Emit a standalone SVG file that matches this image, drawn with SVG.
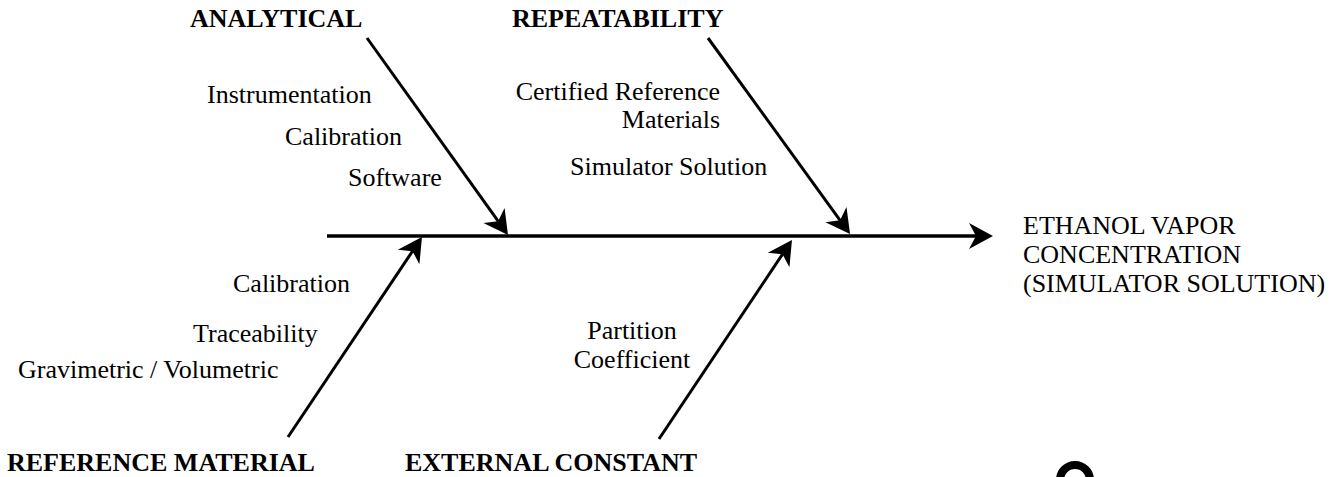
<svg xmlns="http://www.w3.org/2000/svg" width="1335" height="477" viewBox="0 0 1335 477">
<style>
text{font-family:"Liberation Serif","Times New Roman",serif;font-size:26px;fill:#000}
.h{font-weight:bold}
.bone{stroke:#000;stroke-width:3;fill:none}
.spine{stroke:#000;stroke-width:3.5;fill:none}
</style>
<defs>
<marker id="ah" viewBox="-26 -14 27 28" refX="-12" refY="0" markerWidth="27" markerHeight="28" markerUnits="userSpaceOnUse" orient="auto">
<path d="M0,0 L-24,-13 L-17,0 L-24,13 Z" fill="#000"/>
</marker>
</defs>
<rect width="1335" height="477" fill="#fff"/>
<g id="connectors">
<line class="spine" x1="327" y1="236" x2="981" y2="236" marker-end="url(#ah)"/>
<line class="bone" x1="367" y1="38" x2="501" y2="225.2" marker-end="url(#ah)"/>
<line class="bone" x1="708" y1="38" x2="843" y2="224.3" marker-end="url(#ah)"/>
<line class="bone" x1="288" y1="437" x2="415.3" y2="247" marker-end="url(#ah)"/>
<line class="bone" x1="659" y1="439" x2="785.3" y2="250" marker-end="url(#ah)"/>
</g>
<g id="analytical">
<text class="h" x="190" y="27">ANALYTICAL</text>
<text x="207" y="103">Instrumentation</text>
<text x="285" y="145">Calibration</text>
<text x="348" y="186">Software</text>
</g>
<g id="repeatability">
<text class="h" x="512" y="27">REPEATABILITY</text>
<text x="720" y="100" text-anchor="end">Certified Reference</text>
<text x="720" y="128" text-anchor="end">Materials</text>
<text x="570" y="175">Simulator Solution</text>
</g>
<g id="reference-material">
<text class="h" x="7" y="471">REFERENCE MATERIAL</text>
<text x="233" y="292">Calibration</text>
<text x="193" y="342">Traceability</text>
<text x="18" y="378">Gravimetric / Volumetric</text>
</g>
<g id="external-constant">
<text class="h" x="405" y="471">EXTERNAL CONSTANT</text>
<text x="632" y="339" text-anchor="middle">Partition</text>
<text x="632" y="368" text-anchor="middle">Coefficient</text>
</g>
<g id="effect">
<text x="1023" y="234">ETHANOL VAPOR</text>
<text x="1023" y="263">CONCENTRATION</text>
<text x="1023" y="292">(SIMULATOR SOLUTION)</text>
</g>
<circle cx="1075" cy="480" r="15" fill="none" stroke="#000" stroke-width="8"/>
</svg>
